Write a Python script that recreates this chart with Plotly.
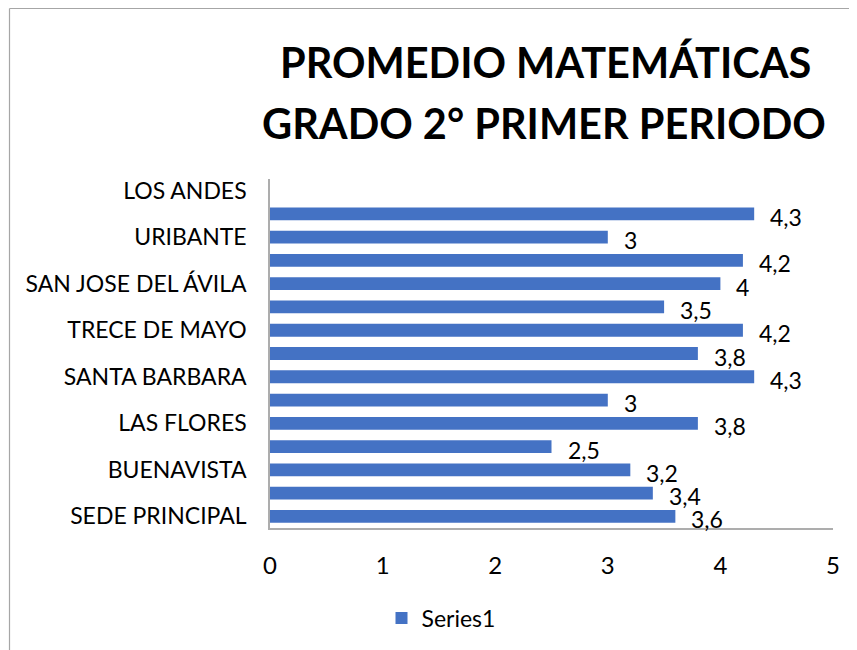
import plotly.graph_objects as go

# ---- data ----
tick_labels = ["SEDE PRINCIPAL", "BUENAVISTA", "LAS FLORES", "SANTA BARBARA",
               "TRECE DE MAYO", "SAN JOSE DEL ÁVILA", "URIBANTE", "LOS ANDES"]
values = [3.6, 3.4, 3.2, 2.5, 3.8, 3.0, 4.3, 3.8, 4.2, 3.5, 4.0, 4.2, 3.0, 4.3, None]
series_name = "Series1"
title_lines = ["PROMEDIO MATEMÁTICAS", "GRADO 2° PRIMER PERIODO"]

positions = list(range(len(values)))
tick_positions = positions[::2]

OFF = 8  # default page body margin
W, H = 857 - OFF, 650 - OFF
# plot area in page pixels: x 270..833, y 179..528
PL, PR, PT, PB = 270, 833, 179, 528
ML, MR, MT, MB = PL - OFF, W - (PR - OFF), PT - OFF, H - (PB - OFF)
FONT = "Lato"
BLUE = "#4472C4"
AXIS_GRAY = "#ADADAD"

pw = W - ML - MR
ph = H - MT - MB
def px_x(px):  # page pixel -> paper x
    return (px - PL) / pw
def px_y(py):  # page pixel -> paper y
    return (PB - py) / ph

def fmt(v):
    return ("%g" % v).replace(".", ",")

fig = go.Figure()
fig.add_trace(go.Bar(
    x=values, y=positions, orientation="h", name=series_name,
    marker=dict(color=BLUE, line=dict(width=0)),
    showlegend=True,
))

for p, v in zip(positions, values):
    if v is None:
        continue
    fig.add_annotation(x=v, y=p, xref="x", yref="y", text=fmt(v),
                       showarrow=False, xanchor="left", yanchor="middle",
                       xshift=14, yshift=-3,
                       font=dict(family=FONT, size=23, color="#000000"))

for line, cx, cy in zip(title_lines, [545, 544], [62.5, 122.5]):
    fig.add_annotation(xref="paper", yref="paper", x=px_x(cx), y=px_y(cy),
                       text="<b>" + line + "</b>", showarrow=False,
                       xanchor="center", yanchor="middle",
                       font=dict(family=FONT, size=41.5, color="#000000"))

# chart border (top and left visible)
fig.add_shape(type="line", xref="paper", yref="paper",
              x0=px_x(9.5), y0=px_y(700), x1=px_x(9.5), y1=px_y(8.5),
              line=dict(color="#A6A6A6", width=1.2))
fig.add_shape(type="line", xref="paper", yref="paper",
              x0=px_x(9.5), y0=px_y(8.5), x1=px_x(900), y1=px_y(8.5),
              line=dict(color="#A6A6A6", width=1.2))

fig.update_layout(
    width=W, height=H,
    margin=dict(l=ML, r=MR, t=MT, b=MB, autoexpand=False),
    paper_bgcolor="white", plot_bgcolor="white",
    bargap=0.45,
    font=dict(family=FONT, size=23, color="#000000"),
    showlegend=True,
    legend=dict(orientation="h", x=px_x(441), y=px_y(618), xanchor="center",
                yanchor="middle", font=dict(family=FONT, size=23),
                itemwidth=30),
    xaxis=dict(range=[0, 5], tickvals=[0, 1, 2, 3, 4, 5], showgrid=False,
               zeroline=False, showline=True, linecolor=AXIS_GRAY, linewidth=1.5,
               ticks="", ticklabelstandoff=15,
               tickfont=dict(family=FONT, size=24)),
    yaxis=dict(range=[-0.5, len(values) - 0.5], tickvals=tick_positions,
               ticktext=tick_labels, showgrid=False, zeroline=False,
               showline=True, linecolor=AXIS_GRAY, linewidth=1.5,
               ticks="", ticklabelstandoff=17,
               tickfont=dict(family=FONT, size=23)),
)

fig.write_html("out.html")
